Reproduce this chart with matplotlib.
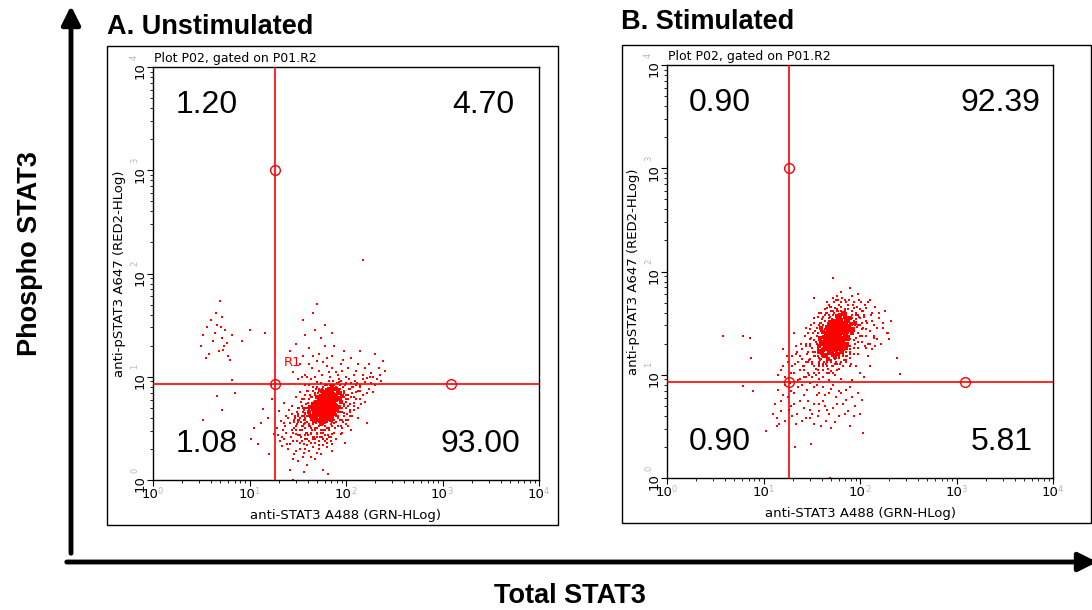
import matplotlib.pyplot as plt

W, H = 1092, 610
RED = "#ff0000"

# ── Data ──────────────────────────────────────────────
# quadrant percentages: UL, UR, LL, LR
quad_a = ["1.20", "4.70", "1.08", "93.00"]
quad_b = ["0.90", "92.39", "0.90", "5.81"]

# gate positions (log10 units)
gate_x = 1.26
gate_y = 0.93
handle_top = 3.0
handle_right = 3.09

decades = [0, 1, 2, 3, 4]

# events as log10(GRN) / log10(RED2)
# A. unstimulated: dense population
a_core_x = [
    1.80, 1.78, 1.83, 1.75, 1.86, 1.72, 1.81, 1.77, 1.84, 1.79, 1.70, 1.88, 1.74, 1.82, 1.76, 1.85, 1.69, 1.90, 1.73, 1.80,
    1.87, 1.78, 1.71, 1.83, 1.92, 1.67, 1.79, 1.75, 1.86, 1.81, 1.64, 1.89, 1.77, 1.84, 1.72, 1.94, 1.68, 1.80, 1.76, 1.85,
    1.66, 1.91, 1.74, 1.82, 1.79, 1.88, 1.70, 1.83, 1.77, 1.95, 1.62, 1.86, 1.73, 1.81, 1.78, 1.90, 1.69, 1.84, 1.75, 1.87,
    1.65, 1.80, 1.72, 1.93, 1.76, 1.83, 1.71, 1.89, 1.78, 1.85, 1.63, 1.81, 1.74, 1.96, 1.79, 1.68, 1.87, 1.77, 1.82, 1.73,
    1.90, 1.76, 1.84, 1.70, 1.80, 1.86, 1.67, 1.92, 1.75, 1.82, 1.78, 1.88, 1.71, 1.83, 1.94, 1.66, 1.79, 1.85, 1.74, 1.81,
    1.79, 1.81, 1.77, 1.83, 1.80, 1.78, 1.82, 1.76, 1.84, 1.80, 1.75, 1.85, 1.79, 1.82, 1.77, 1.86, 1.73, 1.81, 1.78, 1.84,
    1.76, 1.87, 1.80, 1.74, 1.83, 1.79, 1.72, 1.88, 1.81, 1.77, 1.85, 1.75, 1.82, 1.78, 1.90, 1.71, 1.84, 1.80, 1.76, 1.86,
    1.79, 1.73, 1.83, 1.81, 1.74, 1.88, 1.77, 1.85, 1.70, 1.82, 1.78, 1.89, 1.75, 1.80, 1.84, 1.72, 1.86, 1.79, 1.76, 1.83,
]
a_core_y = [
    0.74, 0.71, 0.77, 0.69, 0.80, 0.66, 0.68, 0.78, 0.72, 0.63, 0.72, 0.75, 0.60, 0.83, 0.74, 0.66, 0.64, 0.82, 0.77, 0.59,
    0.70, 0.85, 0.58, 0.62, 0.78, 0.69, 0.80, 0.65, 0.87, 0.76, 0.62, 0.73, 0.56, 0.81, 0.73, 0.84, 0.57, 0.70, 0.82, 0.60,
    0.74, 0.68, 0.54, 0.88, 0.66, 0.64, 0.80, 0.69, 0.61, 0.76, 0.66, 0.77, 0.70, 0.64, 0.76, 0.88, 0.76, 0.58, 0.86, 0.83,
    0.59, 0.79, 0.63, 0.71, 0.68, 0.74, 0.68, 0.79, 0.58, 0.73, 0.71, 0.86, 0.76, 0.81, 0.72, 0.61, 0.67, 0.70, 0.79, 0.57,
    0.72, 0.63, 0.85, 0.67, 0.61, 0.74, 0.65, 0.86, 0.73, 0.67, 0.81, 0.69, 0.75, 0.60, 0.79, 0.70, 0.77, 0.89, 0.62, 0.72,
    0.75, 0.73, 0.72, 0.76, 0.77, 0.69, 0.71, 0.76, 0.78, 0.67, 0.71, 0.75, 0.80, 0.65, 0.79, 0.72, 0.74, 0.81, 0.67, 0.70,
    0.66, 0.78, 0.72, 0.68, 0.80, 0.69, 0.71, 0.76, 0.78, 0.64, 0.68, 0.79, 0.74, 0.73, 0.77, 0.70, 0.82, 0.65, 0.71, 0.70,
    0.83, 0.65, 0.67, 0.75, 0.80, 0.80, 0.75, 0.64, 0.76, 0.77, 0.62, 0.71, 0.67, 0.82, 0.74, 0.78, 0.79, 0.71, 0.84, 0.70,
]
# A. unstimulated: halo around the dense population
a_halo_x = [
    1.50, 1.55, 1.58, 1.62, 1.64, 1.66, 1.68, 1.70, 1.72, 1.74, 1.76, 1.78, 1.80, 1.82, 1.84, 1.86, 1.88, 1.90, 1.92, 1.94,
    1.96, 1.98, 2.00, 2.02, 2.04, 2.06, 1.53, 1.57, 1.61, 1.65, 1.69, 1.73, 1.77, 1.81, 1.85, 1.89, 1.93, 1.97, 2.01, 2.05,
    1.48, 1.52, 1.56, 1.60, 1.64, 1.68, 1.72, 1.76, 1.80, 1.84, 1.88, 1.92, 1.96, 2.00, 2.04, 2.08, 2.12, 1.63, 1.59, 1.55,
    1.51, 1.47, 1.45, 1.49, 1.54, 1.58, 1.62, 1.66, 1.70, 1.74, 1.78, 1.82, 1.86, 1.90, 1.94, 1.98, 2.02, 1.67, 1.71, 1.75,
    1.79, 1.83, 1.87, 1.91, 1.95, 1.99, 2.03, 2.07, 2.11, 2.15, 1.57, 1.61, 1.65, 1.69, 1.73, 1.53, 1.49, 1.46, 1.60, 1.64,
    1.68, 1.72, 1.76, 1.80, 1.84, 1.88, 1.92, 1.96, 2.00, 2.04, 1.56, 1.60, 1.62, 1.66, 1.70, 1.58, 1.54, 1.52, 1.50, 1.48,
    1.90, 1.94, 1.96, 1.98, 2.00, 1.92, 1.88, 1.86, 1.98, 2.02, 1.66, 1.70, 1.74, 1.78, 1.82, 1.86, 1.90, 1.68, 1.72, 1.76,
    1.80, 1.84, 1.88, 1.92, 1.62, 1.58, 1.56, 1.60, 1.64, 2.08,
]
a_halo_y = [
    0.62, 0.70, 0.50, 0.78, 0.58, 0.86, 0.48, 0.90, 0.52, 0.94, 0.46, 0.92, 0.50, 0.96, 0.54, 0.92, 0.58, 0.90, 0.62, 0.88,
    0.66, 0.86, 0.70, 0.78, 0.74, 0.84, 0.56, 0.64, 0.44, 0.68, 0.56, 0.42, 0.60, 0.44, 0.62, 0.50, 0.70, 0.56, 0.64, 0.94,
    0.52, 0.44, 0.58, 0.62, 0.50, 0.66, 0.58, 0.54, 0.56, 0.88, 0.84, 0.80, 0.76, 0.82, 0.88, 0.80, 0.86, 0.72, 0.74, 0.66,
    0.70, 0.60, 0.46, 0.38, 0.48, 0.40, 0.52, 0.42, 0.50, 0.48, 0.52, 0.48, 0.56, 0.64, 0.58, 0.62, 0.58, 0.76, 0.84, 0.88,
    0.88, 0.92, 0.96, 0.94, 0.96, 0.92, 0.98, 0.90, 0.94, 0.90, 0.82, 0.86, 0.80, 0.88, 0.82, 0.76, 0.66, 0.56, 0.46, 0.36,
    0.40, 0.34, 0.40, 0.36, 0.42, 0.46, 0.52, 0.46, 0.54, 0.66, 0.54, 0.56, 0.64, 0.60, 0.62, 0.60, 0.52, 0.60, 0.56, 0.48,
    0.72, 0.76, 0.70, 0.74, 0.78, 0.66, 0.68, 0.60, 0.80, 0.72, 0.54, 0.46, 0.56, 0.48, 0.58, 0.52, 0.56, 0.82, 0.86, 0.90,
    0.92, 0.84, 0.92, 0.86, 0.68, 0.70, 0.62, 0.40, 0.46, 0.72,
]
# A. unstimulated: diffuse cloud, events above the gate, upper-left group, strays
a_cloud_x = [
    1.55, 1.48, 1.60, 1.42, 1.52, 1.65, 1.38, 1.58, 1.45, 1.62, 1.35, 1.50, 1.68, 1.40, 1.57, 1.47, 1.63, 1.33, 1.55, 1.70,
    1.44, 1.61, 1.36, 1.53, 1.66, 1.49, 1.59, 1.31, 1.46, 1.72, 1.30, 1.56, 1.64, 1.41, 1.51, 1.67, 1.39, 1.54, 1.69, 1.43,
    1.75, 1.82, 1.78, 1.88, 1.72, 1.85, 1.92, 1.80, 1.95, 1.76, 1.98, 2.02, 2.05, 2.00, 2.08, 2.10, 1.97, 2.12, 2.15, 2.03,
    2.18, 2.06, 2.20, 2.00, 2.14, 2.24, 2.09, 2.25, 2.30, 2.35, 2.28, 2.02, 1.93, 1.60, 1.66, 1.58, 1.52, 1.70, 1.63, 1.48,
    1.90, 1.86, 1.74, 1.68, 1.60, 1.50, 1.45, 1.85, 1.95, 2.05, 1.37, 1.34, 1.29, 1.32, 1.44, 1.36, 2.22, 1.82, 2.12, 1.99,
    1.58, 1.62, 1.52, 1.66, 1.60, 1.54, 1.68, 1.64, 1.56, 1.70, 1.50, 1.72, 1.62, 1.46, 1.66, 1.58, 1.74, 1.54, 1.68, 1.60,
    1.92, 1.96, 1.94, 2.00, 1.98, 2.04, 1.96, 2.06, 1.92, 2.02, 1.90, 1.88, 1.98, 2.08, 1.94, 2.10, 1.86, 1.90, 1.84, 1.96,
    1.72, 1.78, 1.66, 1.80, 1.62, 1.76, 1.70, 1.58, 1.84, 1.74, 1.42, 1.38, 1.48, 1.34, 1.52, 1.40, 1.46, 1.36, 1.50, 1.56,
    2.14, 2.18, 2.22, 2.26, 2.16, 2.32, 2.20, 2.10, 2.36, 2.04, 1.64, 1.56, 1.68, 1.62, 1.72, 1.54, 1.50, 1.44, 1.70, 1.64,
    1.45, 1.52, 1.60, 1.55, 1.65, 1.70, 1.75, 1.80, 1.62, 1.58, 1.68, 1.74, 1.55, 1.66, 1.78, 1.85, 1.90, 1.95, 2.00, 1.88,
    2.05, 2.10, 2.18, 2.24, 2.30, 2.38, 2.40, 1.48, 1.72, 1.83, 1.98, 2.15, 1.64, 1.78, 1.86, 1.50, 1.93, 2.28, 1.42, 1.70,
    1.58, 1.68, 1.72, 1.76, 1.82, 1.86, 1.92, 1.96, 2.02, 2.08, 2.12, 2.20, 2.26, 2.34, 1.62, 1.66, 1.80, 1.54, 1.97, 2.22,
    0.52, 0.50, 0.55, 0.60, 0.65, 0.70, 0.72, 0.68, 0.75, 0.78, 0.62, 0.66, 0.74, 0.80, 0.58, 0.71, 0.77, 0.64, 0.82, 0.69,
    1.00, 1.16, 0.92, 0.56, 0.73,
    0.66, 0.71, 0.52, 0.85, 1.02, 1.05, 1.14, 1.19, 1.09, 0.82, 1.22, 1.20, 1.25, 1.12, 1.23,
    1.42, 1.45, 1.81, 1.76, 1.56, 2.18,
]
a_cloud_y = [
    0.52, 0.45, 0.40, 0.55, 0.30, 0.48, 0.62, 0.65, 0.38, 0.28, 0.48, 0.70, 0.36, 0.30, 0.58, 0.62, 0.52, 0.57, 0.22, 0.45,
    0.48, 0.75, 0.40, 0.42, 0.32, 0.54, 0.46, 0.67, 0.25, 0.52, 0.44, 0.35, 0.60, 0.68, 0.58, 0.42, 0.35, 0.78, 0.55, 0.42,
    0.42, 0.50, 0.38, 0.55, 0.30, 0.45, 0.60, 0.32, 0.52, 0.48, 0.65, 0.72, 0.80, 0.58, 0.75, 0.85, 0.90, 0.70, 0.92, 0.88,
    0.82, 0.62, 0.95, 0.94, 0.78, 0.88, 0.96, 1.00, 0.92, 1.02, 0.85, 0.52, 0.95, 0.86, 0.90, 0.92, 0.85, 0.95, 0.82, 0.80,
    0.40, 0.35, 0.25, 0.20, 0.15, 0.18, 0.20, 0.28, 0.45, 0.48, 0.52, 0.33, 0.50, 0.38, 0.72, 0.75, 0.55, 0.42, 0.60, 0.36,
    0.55, 0.62, 0.48, 0.56, 0.70, 0.62, 0.64, 0.45, 0.68, 0.60, 0.58, 0.68, 0.54, 0.50, 0.72, 0.44, 0.58, 0.38, 0.50, 0.34,
    0.72, 0.80, 0.66, 0.76, 0.84, 0.68, 0.58, 0.90, 0.88, 0.82, 0.62, 0.88, 0.72, 0.68, 0.92, 0.78, 0.52, 0.56, 0.92, 0.50,
    0.38, 0.44, 0.40, 0.40, 0.38, 0.34, 0.42, 0.30, 0.38, 0.46, 0.35, 0.46, 0.28, 0.42, 0.36, 0.60, 0.58, 0.55, 0.44, 0.26,
    0.86, 0.98, 0.84, 0.94, 0.74, 0.98, 0.76, 0.92, 0.96, 0.62, 0.80, 0.78, 0.84, 0.92, 0.88, 0.72, 0.64, 0.64, 0.26, 0.22,
    1.05, 1.12, 1.00, 1.20, 1.08, 1.15, 1.02, 1.10, 1.28, 1.40, 1.45, 1.38, 1.55, 1.62, 1.50, 1.20, 1.05, 1.12, 1.00, 1.30,
    1.18, 1.06, 1.02, 1.12, 1.22, 1.15, 1.06, 1.32, 1.22, 1.00, 1.25, 1.25, 0.98, 1.30, 1.42, 0.98, 0.98, 1.00, 1.25, 1.70,
    1.02, 1.00, 1.06, 1.14, 1.05, 1.08, 1.02, 1.06, 1.08, 1.02, 1.12, 1.08, 1.04, 1.08, 1.12, 1.20, 1.18, 1.00, 1.16, 0.99,
    1.40, 1.30, 1.18, 1.55, 1.62, 1.48, 1.38, 1.25, 1.45, 1.20, 1.35, 1.50, 1.30, 1.16, 1.22, 1.58, 1.33, 1.42, 1.40, 1.73,
    1.45, 1.42, 1.35, 1.48, 1.26,
    0.81, 0.68, 0.58, 0.84, 0.40, 0.50, 0.69, 0.60, 0.35, 0.97, 0.92, 0.25, 0.45, 0.55, 0.78,
    0.10, 0.00, 0.06, 0.10, 0.08, 2.13,
]

# B. stimulated: dense population
b_core_x = [
    1.75, 1.72, 1.78, 1.70, 1.81, 1.68, 1.76, 1.73, 1.80, 1.66, 1.83, 1.71, 1.77, 1.64, 1.85, 1.69, 1.79, 1.74, 1.62, 1.87,
    1.73, 1.82, 1.67, 1.78, 1.60, 1.89, 1.76, 1.70, 1.84, 1.65, 1.80, 1.72, 1.86, 1.63, 1.77, 1.91, 1.68, 1.75, 1.82, 1.58,
    1.79, 1.71, 1.88, 1.66, 1.74, 1.84, 1.61, 1.78, 1.69, 1.93, 1.73, 1.81, 1.64, 1.76, 1.87, 1.59, 1.83, 1.70, 1.77, 1.67,
    1.90, 1.72, 1.80, 1.62, 1.85, 1.74, 1.78, 1.65, 1.95, 1.69, 1.81, 1.57, 1.76, 1.86, 1.71, 1.79, 1.63, 1.88, 1.73, 1.68,
    1.84, 1.75, 1.66, 1.92, 1.77, 1.60, 1.82, 1.70, 1.79, 1.64, 1.87, 1.72, 1.80, 1.67, 1.85, 1.74, 1.61, 1.78, 1.83, 1.69,
    1.74, 1.76, 1.72, 1.78, 1.75, 1.73, 1.77, 1.71, 1.79, 1.75, 1.70, 1.80, 1.74, 1.77, 1.72, 1.81, 1.68, 1.76, 1.73, 1.79,
    1.71, 1.82, 1.75, 1.69, 1.78, 1.74, 1.67, 1.83, 1.76, 1.72, 1.80, 1.70, 1.77, 1.73, 1.85, 1.66, 1.79, 1.75, 1.71, 1.81,
    1.74, 1.68, 1.78, 1.76, 1.69, 1.83, 1.72, 1.80, 1.65, 1.77, 1.73, 1.84, 1.70, 1.75, 1.79, 1.67, 1.81, 1.74, 1.71, 1.78,
]
b_core_y = [
    1.37, 1.33, 1.41, 1.30, 1.45, 1.27, 1.31, 1.44, 1.36, 1.35, 1.50, 1.22, 1.48, 1.29, 1.40, 1.39, 1.27, 1.52, 1.24, 1.47,
    1.26, 1.33, 1.42, 1.55, 1.32, 1.43, 1.20, 1.47, 1.29, 1.19, 1.49, 1.38, 1.53, 1.37, 1.34, 1.49, 1.23, 1.45, 1.25, 1.28,
    1.58, 1.31, 1.37, 1.46, 1.17, 1.56, 1.21, 1.29, 1.51, 1.44, 1.40, 1.32, 1.33, 1.43, 1.30, 1.36, 1.46, 1.26, 1.52, 1.15,
    1.55, 1.48, 1.22, 1.41, 1.35, 1.29, 1.46, 1.25, 1.50, 1.34, 1.41, 1.22, 1.57, 1.26, 1.43, 1.33, 1.18, 1.52, 1.35, 1.49,
    1.38, 1.24, 1.39, 1.40, 1.28, 1.45, 1.60, 1.36, 1.44, 1.27, 1.42, 1.19, 1.53, 1.31, 1.48, 1.42, 1.30, 1.37, 1.28, 1.41,
    1.36, 1.39, 1.35, 1.38, 1.42, 1.31, 1.34, 1.40, 1.43, 1.30, 1.33, 1.40, 1.45, 1.28, 1.43, 1.36, 1.38, 1.47, 1.29, 1.32,
    1.28, 1.44, 1.34, 1.30, 1.46, 1.32, 1.36, 1.41, 1.43, 1.26, 1.30, 1.44, 1.37, 1.39, 1.46, 1.32, 1.49, 1.27, 1.37, 1.33,
    1.50, 1.27, 1.31, 1.35, 1.45, 1.48, 1.39, 1.26, 1.40, 1.42, 1.24, 1.35, 1.29, 1.48, 1.39, 1.44, 1.50, 1.33, 1.51, 1.34,
]
# B. stimulated: halo around the dense population
b_halo_x = [
    1.45, 1.48, 1.50, 1.52, 1.54, 1.56, 1.58, 1.60, 1.62, 1.64, 1.66, 1.68, 1.70, 1.72, 1.74, 1.76, 1.78, 1.80, 1.82, 1.84,
    1.86, 1.88, 1.90, 1.92, 1.94, 1.96, 1.98, 2.00, 2.02, 2.04, 1.47, 1.51, 1.55, 1.59, 1.63, 1.67, 1.71, 1.75, 1.79, 1.83,
    1.87, 1.91, 1.95, 1.99, 2.03, 2.07, 2.11, 1.57, 1.61, 1.65, 1.69, 1.73, 1.77, 1.81, 1.85, 1.89, 1.93, 1.97, 2.01, 2.05,
    1.42, 1.46, 1.50, 1.54, 1.58, 1.62, 1.66, 1.70, 1.74, 1.78, 1.82, 1.86, 1.90, 1.94, 1.98, 2.02, 2.06, 2.10, 1.53, 1.57,
    1.61, 1.65, 1.69, 1.73, 1.77, 1.81, 1.85, 1.89, 1.93, 1.97, 1.56, 1.60, 1.64, 1.68, 1.72, 1.76, 1.80, 1.84, 1.88, 1.92,
    1.49, 1.53, 1.57, 1.61, 1.65, 1.69, 1.73, 1.77, 1.81, 1.85, 1.44, 1.48, 1.52, 1.56, 1.60, 1.64, 1.68, 1.72, 1.76, 1.80,
    1.86, 1.90, 1.94, 1.98, 2.02, 2.06, 2.10, 2.14, 1.96, 2.00, 1.59, 1.63, 1.67, 1.71, 1.75, 1.79, 1.83, 1.87, 1.91, 1.58,
    1.62, 1.66, 1.70, 1.74, 1.78, 1.82, 1.86, 1.90, 1.94, 1.88,
]
b_halo_y = [
    1.20, 1.28, 1.12, 1.34, 1.06, 1.40, 1.16, 1.44, 1.08, 1.52, 1.12, 1.58, 1.14, 1.62, 1.10, 1.64, 1.16, 1.66, 1.18, 1.62,
    1.22, 1.64, 1.28, 1.58, 1.34, 1.54, 1.40, 1.48, 1.44, 1.56, 1.14, 1.22, 1.30, 1.24, 1.36, 1.20, 1.54, 1.58, 1.22, 1.56,
    1.52, 1.44, 1.48, 1.56, 1.62, 1.50, 1.58, 1.48, 1.54, 1.60, 1.66, 1.70, 1.72, 1.74, 1.70, 1.72, 1.68, 1.66, 1.70, 1.68,
    1.08, 1.02, 0.98, 1.00, 1.02, 0.98, 1.02, 1.04, 1.00, 1.06, 1.08, 1.12, 1.16, 1.20, 1.26, 1.32, 1.38, 1.42, 1.18, 1.10,
    1.18, 1.26, 1.22, 1.18, 1.24, 1.26, 1.30, 1.34, 1.40, 1.46, 1.22, 1.30, 1.44, 1.48, 1.52, 1.54, 1.58, 1.44, 1.40, 1.50,
    1.36, 1.42, 1.36, 1.40, 1.46, 1.56, 1.60, 1.62, 1.50, 1.58, 1.30, 1.44, 1.50, 1.56, 1.60, 1.64, 1.68, 1.74, 1.76, 1.70,
    1.36, 1.22, 1.26, 1.32, 1.38, 1.26, 1.30, 1.36, 1.60, 1.64, 1.14, 1.12, 1.06, 1.08, 1.12, 1.10, 1.14, 1.18, 1.10, 1.28,
    1.26, 1.30, 1.20, 1.24, 1.20, 1.22, 1.26, 1.46, 1.52, 1.56,
]
# B. stimulated: diffuse cloud, events below the gate, strays
b_cloud_x = [
    1.45, 1.50, 1.40, 1.55, 1.48, 1.38, 1.52, 1.44, 1.58, 1.35, 1.42, 1.55, 1.47, 1.60, 1.33, 1.51, 1.39, 1.57, 1.46, 1.62,
    1.30, 1.53, 1.43, 1.65, 1.28, 1.49, 1.36, 1.59, 1.41, 1.56, 1.25, 1.22, 1.20, 1.18, 1.15, 1.32, 1.27, 1.62, 1.68, 1.72,
    1.80, 1.85, 1.90, 1.95, 2.00, 2.03, 1.98, 2.06, 2.10, 2.02, 1.94, 1.88, 2.08, 1.84, 1.92, 2.12, 2.15, 2.18, 2.05, 1.98,
    2.20, 2.24, 2.28, 2.32, 2.12, 2.08, 1.90, 2.22, 1.78, 1.70, 1.64, 1.58, 1.66, 1.75, 1.80, 1.86, 1.96, 2.00, 1.76, 1.68,
    1.72, 1.80, 1.62, 1.55, 1.48, 1.85, 1.92, 2.04, 1.52, 1.44, 2.16, 2.26, 1.99, 1.74, 1.66, 2.10, 1.34, 1.24, 1.20, 2.30,
    1.52, 1.56, 1.48, 1.60, 1.54, 1.50, 1.62, 1.58, 1.46, 1.64, 1.55, 1.60, 1.52, 1.66, 1.48, 1.58, 1.44, 1.62, 1.56, 1.68,
    1.88, 1.92, 1.86, 1.94, 1.90, 1.96, 1.84, 1.98, 1.88, 2.00, 1.82, 1.92, 2.04, 1.86, 1.96, 2.06, 1.90, 1.94, 2.02, 1.80,
    1.70, 1.74, 1.66, 1.78, 1.62, 1.82, 1.72, 1.86, 1.76, 1.68, 1.68, 1.72, 1.64, 1.76, 1.62, 1.80, 1.70, 1.60, 1.74, 1.66,
    1.38, 1.42, 1.36, 1.40, 1.32, 1.44, 1.30, 1.46, 1.38, 1.34, 2.08, 2.14, 2.12, 2.18, 2.06, 2.20, 2.16, 2.10, 1.98, 2.24,
    1.15, 1.20, 1.12, 1.18, 1.25, 1.14, 1.22, 1.28, 1.32, 1.35, 1.38, 1.42, 1.45, 1.48, 1.52, 1.55, 1.58, 1.62, 1.65, 1.68,
    1.72, 1.75, 1.78, 1.82, 1.85, 1.88, 1.92, 1.95, 1.98, 2.00, 1.40, 1.60, 1.70, 1.50, 1.30, 1.90, 1.10, 1.42, 1.66, 1.80,
    1.46, 1.52, 1.58, 1.64, 1.70, 1.76, 1.36, 1.26, 1.22, 1.48, 1.56, 1.62, 1.74, 1.84, 1.94, 1.18, 1.32, 1.44, 1.86, 1.68,
    1.58, 1.78, 1.40, 1.16, 1.28, 1.90, 2.02, 1.52, 1.64, 1.34,
    1.72, 1.90, 1.52, 0.58, 0.79, 0.86, 0.87, 0.79, 0.89, 2.41, 2.38, 2.29, 2.03, 1.90, 1.33, 1.49, 1.69, 1.14, 1.03,
]
b_cloud_y = [
    1.20, 1.10, 1.15, 1.30, 1.35, 1.05, 1.02, 1.28, 1.08, 1.22, 0.98, 1.45, 1.00, 1.15, 1.10, 1.40, 1.30, 0.96, 1.12, 1.05,
    1.18, 1.22, 1.38, 1.10, 1.02, 1.48, 0.95, 1.50, 1.08, 1.18, 1.12, 0.98, 1.25, 1.05, 1.00, 1.40, 0.92, 0.98, 1.02, 1.08,
    1.12, 1.18, 1.25, 1.30, 1.38, 1.45, 1.58, 1.52, 1.42, 1.62, 1.65, 1.68, 1.70, 1.72, 1.76, 1.60, 1.48, 1.35, 1.28, 1.20,
    1.55, 1.45, 1.40, 1.52, 1.25, 1.18, 1.08, 1.30, 1.68, 1.62, 1.58, 1.60, 1.65, 1.72, 1.80, 1.60, 1.08, 1.02, 1.05, 0.95,
    0.90, 0.96, 0.88, 0.90, 0.92, 0.85, 0.95, 0.98, 1.55, 1.45, 1.66, 1.62, 1.72, 1.00, 1.70, 1.08, 1.28, 1.18, 1.08, 1.35,
    1.18, 1.25, 1.15, 1.22, 1.32, 1.26, 1.30, 1.12, 1.22, 1.18, 1.38, 1.42, 1.08, 1.24, 1.30, 1.34, 1.12, 1.48, 1.05, 1.14,
    1.48, 1.55, 1.60, 1.42, 1.35, 1.58, 1.64, 1.48, 1.28, 1.55, 1.58, 1.62, 1.58, 1.70, 1.36, 1.44, 1.20, 1.70, 1.50, 1.62,
    1.12, 1.15, 1.08, 1.18, 1.10, 1.20, 1.02, 1.14, 1.10, 1.20, 1.55, 1.58, 1.52, 1.62, 1.56, 1.56, 1.66, 1.50, 1.65, 1.60,
    1.18, 1.05, 1.12, 1.25, 1.02, 0.98, 1.08, 1.40, 0.96, 1.20, 1.30, 1.38, 1.52, 1.45, 1.65, 1.60, 1.28, 1.72, 1.78, 1.50,
    0.85, 0.80, 0.72, 0.65, 0.78, 0.58, 0.55, 0.70, 0.82, 0.62, 0.75, 0.68, 0.85, 0.58, 0.72, 0.80, 0.65, 0.75, 0.55, 0.82,
    0.68, 0.78, 0.60, 0.72, 0.85, 0.65, 0.78, 0.70, 0.82, 0.62, 0.55, 0.50, 0.48, 0.62, 0.60, 0.50, 0.62, 0.80, 0.66, 0.82,
    0.75, 0.88, 0.82, 0.70, 0.86, 0.72, 0.88, 0.66, 0.90, 0.66, 0.60, 0.88, 0.54, 0.62, 0.60, 0.75, 0.72, 0.58, 0.76, 0.62,
    0.72, 0.84, 0.90, 0.52, 0.84, 0.88, 0.76, 0.52, 0.80, 0.52,
    1.94, 1.84, 1.74, 1.38, 1.38, 1.36, 1.16, 0.89, 0.84, 1.01, 1.16, 1.40, 0.44, 0.50, 0.30, 0.33, 0.00, 0.50, 0.46,
]


def px_axes(fig, left, top, right, bottom):
    return fig.add_axes([left / W, 1 - bottom / H, (right - left) / W, (bottom - top) / H])


def dot_plot(ax, layers, quads, quad_pos, show_r1):
    ax.set_xscale("log")
    ax.set_yscale("log")
    ax.set_xlim(1, 1e4)
    ax.set_ylim(1, 1e4)

    # layers: (x list, y list, marker size)
    for xs, ys, size in layers:
        ax.scatter([10 ** v for v in xs], [10 ** v for v in ys], s=size, marker="s",
                   color=RED, linewidths=0, zorder=2)

    gx, gy = 10 ** gate_x, 10 ** gate_y
    ax.axvline(gx, color=RED, lw=1.2, zorder=3)
    ax.axhline(gy, color=RED, lw=1.2, zorder=3)
    ax.plot([gx, gx, 10 ** handle_right], [gy, 10 ** handle_top, gy], "o",
            ms=7, mfc="none", mec=RED, mew=1.0, zorder=4)
    if show_r1:
        ax.text(10 ** 1.35, 10 ** 1.1, "R1", color=RED, fontsize=9.5,
                family="DejaVu Sans", zorder=4)

    for label, (fx, fy) in zip(quads, quad_pos):
        ax.text(fx, fy, label, transform=ax.transAxes, ha="center", va="center",
                fontsize=23, family="Liberation Sans", color="black")

    for sp in ax.spines.values():
        sp.set_linewidth(1.0)
        sp.set_color("black")
    ax.tick_params(which="both", direction="out", labelbottom=False, labelleft=False)
    ax.tick_params(which="major", length=4, width=0.8)
    ax.tick_params(which="minor", length=2.5, width=0.6)

    # "10" tick labels with the faint grey exponent
    for d in decades:
        ax.annotate("10", xy=(10 ** d, 0), xycoords=("data", "axes fraction"),
                    xytext=(-3, -8), textcoords="offset pixels", ha="center", va="top",
                    fontsize=9.5, family="DejaVu Sans")
        ax.annotate(str(d), xy=(10 ** d, 0), xycoords=("data", "axes fraction"),
                    xytext=(5, -7), textcoords="offset pixels", ha="left", va="top",
                    fontsize=6, family="DejaVu Sans", color="#b8b8b8")
        ax.annotate("10", xy=(0, 10 ** d), xycoords=("axes fraction", "data"),
                    xytext=(-6, -4), textcoords="offset pixels", ha="right", va="center",
                    rotation=90, fontsize=9.5, family="DejaVu Sans")
        ax.annotate(str(d), xy=(0, 10 ** d), xycoords=("axes fraction", "data"),
                    xytext=(-14, 10), textcoords="offset pixels", ha="right", va="center",
                    rotation=90, fontsize=6, family="DejaVu Sans", color="#b8b8b8")

    ax.annotate("Plot P02, gated on P01.R2", xy=(0, 1), xycoords="axes fraction",
                xytext=(1, 2), textcoords="offset pixels", ha="left", va="bottom",
                fontsize=9, family="DejaVu Sans")
    ax.annotate("anti-STAT3 A488 (GRN-HLog)", xy=(0.5, 0), xycoords="axes fraction",
                xytext=(0, -35), textcoords="offset pixels", ha="center", va="center",
                fontsize=9.5, family="DejaVu Sans")
    ax.annotate("anti-pSTAT3 A647 (RED2-HLog)", xy=(0, 0.5), xycoords="axes fraction",
                xytext=(-34, 0), textcoords="offset pixels", ha="center", va="center",
                rotation=90, fontsize=9.5, family="DejaVu Sans")


fig = plt.figure(figsize=(W / 100, H / 100), dpi=100)
fig.patch.set_facecolor("white")

# overlay in pixel coordinates for boxes, arrows and titles
bg = fig.add_axes([0, 0, 1, 1])
bg.set_xlim(0, W)
bg.set_ylim(H, 0)
bg.axis("off")

bg.add_patch(plt.Rectangle((107, 46), 451, 479, fill=False, ec="black", lw=1.0))
bg.add_patch(plt.Rectangle((622, 45), 469, 478, fill=False, ec="black", lw=1.0))

bg.annotate("", xy=(71, 3), xytext=(71, 556), annotation_clip=False,
            arrowprops=dict(arrowstyle="-|>", lw=3.5, color="black", mutation_scale=28))
bg.annotate("", xy=(1100, 562), xytext=(64, 562), annotation_clip=False,
            arrowprops=dict(arrowstyle="-|>", lw=3.5, color="black", mutation_scale=28))

bold = dict(fontsize=19.5, fontweight="bold", family="Liberation Sans", color="black")
bg.text(30, 254, "Phospho STAT3", rotation=90, ha="center", va="center", **bold)
bg.text(570, 596, "Total STAT3", ha="center", va="center", **bold)
bg.text(107, 27, "A. Unstimulated", ha="left", va="center", **bold)
bg.text(621, 22, "B. Stimulated", ha="left", va="center", **bold)

ax_a = px_axes(fig, 153, 67, 539, 480)
ax_b = px_axes(fig, 667, 65, 1053, 478)

dot_plot(ax_a, [(a_cloud_x, a_cloud_y, 2.5), (a_halo_x, a_halo_y, 3), (a_core_x, a_core_y, 5.5)],
         quad_a, [(0.14, 0.908), (0.855, 0.908), (0.14, 0.087), (0.847, 0.087)], True)
dot_plot(ax_b, [(b_cloud_x, b_cloud_y, 2.5), (b_halo_x, b_halo_y, 3), (b_core_x, b_core_y, 5.5)],
         quad_b, [(0.137, 0.908), (0.865, 0.908), (0.137, 0.087), (0.868, 0.087)], False)

fig.savefig("out.png", dpi=100)
